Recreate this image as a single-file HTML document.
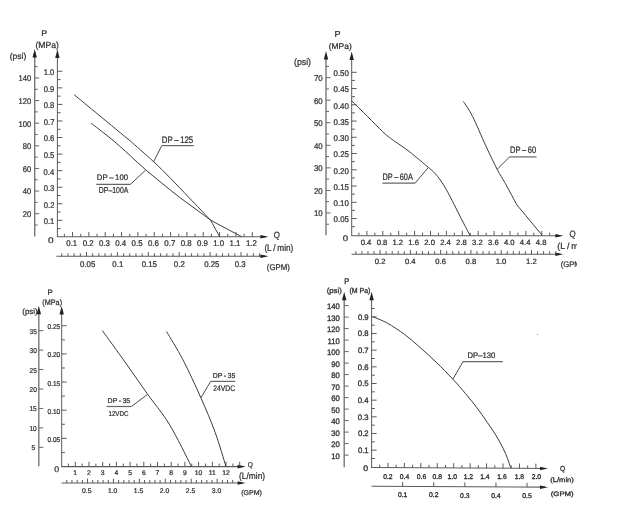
<!DOCTYPE html>
<html><head><meta charset="utf-8"><style>
html,body{margin:0;padding:0;background:#fff;}
body{width:631px;height:521px;overflow:hidden;}
svg{display:block;will-change:transform;}
text{stroke:#2e2e2e;stroke-width:0.24px;}
.c4 text{stroke-width:0.3px;}
svg{text-rendering:geometricPrecision;font-family:"Liberation Sans",Arial,sans-serif;}
</style></head><body>
<svg width="631" height="521" viewBox="0 0 631 521">
<rect width="631" height="521" fill="#fff"/>
<svg x="0" y="0" width="577" height="521" overflow="hidden">
<g class="c1">
<line x1="34.7" y1="53.8" x2="34.7" y2="236.5" stroke="#777" stroke-width="1.4"/>
<polygon fill="#222" points="34.7,49 32.5,57.5 36.9,57.5"/>
<line x1="57.4" y1="54.3" x2="57.4" y2="236.8" stroke="#5a5a5a" stroke-width="1.0"/>
<polygon fill="#222" points="57.4,49.5 55.2,58 59.6,58"/>
<line x1="34.7" y1="224.99" x2="37.7" y2="224.99" stroke="#666" stroke-width="1.0"/>
<line x1="34.7" y1="213.68" x2="39.2" y2="213.68" stroke="#666" stroke-width="1.0"/>
<line x1="34.7" y1="202.37" x2="37.7" y2="202.37" stroke="#666" stroke-width="1.0"/>
<line x1="34.7" y1="191.06" x2="39.2" y2="191.06" stroke="#666" stroke-width="1.0"/>
<line x1="34.7" y1="179.75" x2="37.7" y2="179.75" stroke="#666" stroke-width="1.0"/>
<line x1="34.7" y1="168.44" x2="39.2" y2="168.44" stroke="#666" stroke-width="1.0"/>
<line x1="34.7" y1="157.13" x2="37.7" y2="157.13" stroke="#666" stroke-width="1.0"/>
<line x1="34.7" y1="145.82" x2="39.2" y2="145.82" stroke="#666" stroke-width="1.0"/>
<line x1="34.7" y1="134.51" x2="37.7" y2="134.51" stroke="#666" stroke-width="1.0"/>
<line x1="34.7" y1="123.2" x2="39.2" y2="123.2" stroke="#666" stroke-width="1.0"/>
<line x1="34.7" y1="111.89" x2="37.7" y2="111.89" stroke="#666" stroke-width="1.0"/>
<line x1="34.7" y1="100.58" x2="39.2" y2="100.58" stroke="#666" stroke-width="1.0"/>
<line x1="34.7" y1="89.27" x2="37.7" y2="89.27" stroke="#666" stroke-width="1.0"/>
<line x1="34.7" y1="77.96" x2="39.2" y2="77.96" stroke="#666" stroke-width="1.0"/>
<line x1="34.7" y1="66.65" x2="37.7" y2="66.65" stroke="#666" stroke-width="1.0"/>
<text x="22.81" y="217.08" font-size="8.3" textLength="8.49" lengthAdjust="spacingAndGlyphs" fill="#2e2e2e">20</text>
<text x="22.81" y="194.46" font-size="8.3" textLength="8.49" lengthAdjust="spacingAndGlyphs" fill="#2e2e2e">40</text>
<text x="22.81" y="171.84" font-size="8.3" textLength="8.49" lengthAdjust="spacingAndGlyphs" fill="#2e2e2e">60</text>
<text x="22.81" y="149.22" font-size="8.3" textLength="8.49" lengthAdjust="spacingAndGlyphs" fill="#2e2e2e">80</text>
<text x="18.55" y="126.6" font-size="8.3" textLength="12.74" lengthAdjust="spacingAndGlyphs" fill="#2e2e2e">100</text>
<text x="18.55" y="103.98" font-size="8.3" textLength="12.74" lengthAdjust="spacingAndGlyphs" fill="#2e2e2e">120</text>
<text x="18.55" y="81.36" font-size="8.3" textLength="12.74" lengthAdjust="spacingAndGlyphs" fill="#2e2e2e">140</text>
<line x1="57.4" y1="228.62" x2="60.6" y2="228.62" stroke="#5a5a5a" stroke-width="1.0"/>
<line x1="57.4" y1="220.34" x2="62.4" y2="220.34" stroke="#5a5a5a" stroke-width="1.0"/>
<line x1="57.4" y1="212.06" x2="60.6" y2="212.06" stroke="#5a5a5a" stroke-width="1.0"/>
<line x1="57.4" y1="203.78" x2="62.4" y2="203.78" stroke="#5a5a5a" stroke-width="1.0"/>
<line x1="57.4" y1="195.5" x2="60.6" y2="195.5" stroke="#5a5a5a" stroke-width="1.0"/>
<line x1="57.4" y1="187.22" x2="62.4" y2="187.22" stroke="#5a5a5a" stroke-width="1.0"/>
<line x1="57.4" y1="178.94" x2="60.6" y2="178.94" stroke="#5a5a5a" stroke-width="1.0"/>
<line x1="57.4" y1="170.66" x2="62.4" y2="170.66" stroke="#5a5a5a" stroke-width="1.0"/>
<line x1="57.4" y1="162.38" x2="60.6" y2="162.38" stroke="#5a5a5a" stroke-width="1.0"/>
<line x1="57.4" y1="154.1" x2="62.4" y2="154.1" stroke="#5a5a5a" stroke-width="1.0"/>
<line x1="57.4" y1="145.82" x2="60.6" y2="145.82" stroke="#5a5a5a" stroke-width="1.0"/>
<line x1="57.4" y1="137.54" x2="62.4" y2="137.54" stroke="#5a5a5a" stroke-width="1.0"/>
<line x1="57.4" y1="129.26" x2="60.6" y2="129.26" stroke="#5a5a5a" stroke-width="1.0"/>
<line x1="57.4" y1="120.98" x2="62.4" y2="120.98" stroke="#5a5a5a" stroke-width="1.0"/>
<line x1="57.4" y1="112.7" x2="60.6" y2="112.7" stroke="#5a5a5a" stroke-width="1.0"/>
<line x1="57.4" y1="104.42" x2="62.4" y2="104.42" stroke="#5a5a5a" stroke-width="1.0"/>
<line x1="57.4" y1="96.14" x2="60.6" y2="96.14" stroke="#5a5a5a" stroke-width="1.0"/>
<line x1="57.4" y1="87.86" x2="62.4" y2="87.86" stroke="#5a5a5a" stroke-width="1.0"/>
<line x1="57.4" y1="79.58" x2="60.6" y2="79.58" stroke="#5a5a5a" stroke-width="1.0"/>
<line x1="57.4" y1="71.3" x2="62.4" y2="71.3" stroke="#5a5a5a" stroke-width="1.0"/>
<text x="43.75" y="224.24" font-size="8.3" textLength="10.62" lengthAdjust="spacingAndGlyphs" fill="#2e2e2e">0.1</text>
<text x="43.77" y="207.68" font-size="8.3" textLength="10.62" lengthAdjust="spacingAndGlyphs" fill="#2e2e2e">0.2</text>
<text x="43.71" y="191.12" font-size="8.3" textLength="10.62" lengthAdjust="spacingAndGlyphs" fill="#2e2e2e">0.3</text>
<text x="43.6" y="174.56" font-size="8.3" textLength="10.62" lengthAdjust="spacingAndGlyphs" fill="#2e2e2e">0.4</text>
<text x="43.69" y="158" font-size="8.3" textLength="10.62" lengthAdjust="spacingAndGlyphs" fill="#2e2e2e">0.5</text>
<text x="43.71" y="141.44" font-size="8.3" textLength="10.62" lengthAdjust="spacingAndGlyphs" fill="#2e2e2e">0.6</text>
<text x="43.77" y="124.88" font-size="8.3" textLength="10.62" lengthAdjust="spacingAndGlyphs" fill="#2e2e2e">0.7</text>
<text x="43.71" y="108.32" font-size="8.3" textLength="10.62" lengthAdjust="spacingAndGlyphs" fill="#2e2e2e">0.8</text>
<text x="43.73" y="91.76" font-size="8.3" textLength="10.62" lengthAdjust="spacingAndGlyphs" fill="#2e2e2e">0.9</text>
<text x="43.67" y="75.2" font-size="8.3" textLength="10.62" lengthAdjust="spacingAndGlyphs" fill="#2e2e2e">1.0</text>
<line x1="56.9" y1="236.8" x2="265.4" y2="236.8" stroke="#5a5a5a" stroke-width="1.1"/>
<polygon fill="#222" points="268.4,236.8 260.4,235 260.4,238.6"/>
<line x1="64.37" y1="236.8" x2="64.37" y2="233.8" stroke="#5a5a5a" stroke-width="1.0"/>
<line x1="72.54" y1="236.8" x2="72.54" y2="232" stroke="#5a5a5a" stroke-width="1.0"/>
<line x1="80.71" y1="236.8" x2="80.71" y2="233.8" stroke="#5a5a5a" stroke-width="1.0"/>
<line x1="88.88" y1="236.8" x2="88.88" y2="232" stroke="#5a5a5a" stroke-width="1.0"/>
<line x1="97.05" y1="236.8" x2="97.05" y2="233.8" stroke="#5a5a5a" stroke-width="1.0"/>
<line x1="105.22" y1="236.8" x2="105.22" y2="232" stroke="#5a5a5a" stroke-width="1.0"/>
<line x1="113.39" y1="236.8" x2="113.39" y2="233.8" stroke="#5a5a5a" stroke-width="1.0"/>
<line x1="121.56" y1="236.8" x2="121.56" y2="232" stroke="#5a5a5a" stroke-width="1.0"/>
<line x1="129.73" y1="236.8" x2="129.73" y2="233.8" stroke="#5a5a5a" stroke-width="1.0"/>
<line x1="137.9" y1="236.8" x2="137.9" y2="232" stroke="#5a5a5a" stroke-width="1.0"/>
<line x1="146.07" y1="236.8" x2="146.07" y2="233.8" stroke="#5a5a5a" stroke-width="1.0"/>
<line x1="154.24" y1="236.8" x2="154.24" y2="232" stroke="#5a5a5a" stroke-width="1.0"/>
<line x1="162.41" y1="236.8" x2="162.41" y2="233.8" stroke="#5a5a5a" stroke-width="1.0"/>
<line x1="170.58" y1="236.8" x2="170.58" y2="232" stroke="#5a5a5a" stroke-width="1.0"/>
<line x1="178.75" y1="236.8" x2="178.75" y2="233.8" stroke="#5a5a5a" stroke-width="1.0"/>
<line x1="186.92" y1="236.8" x2="186.92" y2="232" stroke="#5a5a5a" stroke-width="1.0"/>
<line x1="195.09" y1="236.8" x2="195.09" y2="233.8" stroke="#5a5a5a" stroke-width="1.0"/>
<line x1="203.26" y1="236.8" x2="203.26" y2="232" stroke="#5a5a5a" stroke-width="1.0"/>
<line x1="211.43" y1="236.8" x2="211.43" y2="233.8" stroke="#5a5a5a" stroke-width="1.0"/>
<line x1="219.6" y1="236.8" x2="219.6" y2="232" stroke="#5a5a5a" stroke-width="1.0"/>
<line x1="227.77" y1="236.8" x2="227.77" y2="233.8" stroke="#5a5a5a" stroke-width="1.0"/>
<line x1="235.94" y1="236.8" x2="235.94" y2="232" stroke="#5a5a5a" stroke-width="1.0"/>
<line x1="244.11" y1="236.8" x2="244.11" y2="233.8" stroke="#5a5a5a" stroke-width="1.0"/>
<line x1="252.28" y1="236.8" x2="252.28" y2="232" stroke="#5a5a5a" stroke-width="1.0"/>
<text x="66.29" y="246" font-size="8.3" textLength="10.96" lengthAdjust="spacingAndGlyphs" fill="#2e2e2e">0.1</text>
<text x="82.64" y="246" font-size="8.3" textLength="10.96" lengthAdjust="spacingAndGlyphs" fill="#2e2e2e">0.2</text>
<text x="98.95" y="246" font-size="8.3" textLength="10.96" lengthAdjust="spacingAndGlyphs" fill="#2e2e2e">0.3</text>
<text x="115.23" y="246" font-size="8.3" textLength="10.96" lengthAdjust="spacingAndGlyphs" fill="#2e2e2e">0.4</text>
<text x="131.62" y="246" font-size="8.3" textLength="10.96" lengthAdjust="spacingAndGlyphs" fill="#2e2e2e">0.5</text>
<text x="147.97" y="246" font-size="8.3" textLength="10.96" lengthAdjust="spacingAndGlyphs" fill="#2e2e2e">0.6</text>
<text x="164.34" y="246" font-size="8.3" textLength="10.96" lengthAdjust="spacingAndGlyphs" fill="#2e2e2e">0.7</text>
<text x="180.65" y="246" font-size="8.3" textLength="10.96" lengthAdjust="spacingAndGlyphs" fill="#2e2e2e">0.8</text>
<text x="197" y="246" font-size="8.3" textLength="10.96" lengthAdjust="spacingAndGlyphs" fill="#2e2e2e">0.9</text>
<text x="213.17" y="246" font-size="8.3" textLength="10.96" lengthAdjust="spacingAndGlyphs" fill="#2e2e2e">1.0</text>
<text x="229.55" y="246" font-size="8.3" textLength="10.96" lengthAdjust="spacingAndGlyphs" fill="#2e2e2e">1.1</text>
<text x="245.9" y="246" font-size="8.3" textLength="10.96" lengthAdjust="spacingAndGlyphs" fill="#2e2e2e">1.2</text>
<line x1="56.4" y1="256.3" x2="265.4" y2="256.3" stroke="#5a5a5a" stroke-width="1.1"/>
<polygon fill="#222" points="268.4,256.3 260.4,254.5 260.4,258.1"/>
<line x1="61.78" y1="256.3" x2="61.78" y2="253.3" stroke="#5a5a5a" stroke-width="1.0"/>
<line x1="67.96" y1="256.3" x2="67.96" y2="253.3" stroke="#5a5a5a" stroke-width="1.0"/>
<line x1="74.14" y1="256.3" x2="74.14" y2="253.3" stroke="#5a5a5a" stroke-width="1.0"/>
<line x1="80.32" y1="256.3" x2="80.32" y2="253.3" stroke="#5a5a5a" stroke-width="1.0"/>
<line x1="86.5" y1="256.3" x2="86.5" y2="252" stroke="#5a5a5a" stroke-width="1.0"/>
<line x1="92.68" y1="256.3" x2="92.68" y2="253.3" stroke="#5a5a5a" stroke-width="1.0"/>
<line x1="98.86" y1="256.3" x2="98.86" y2="253.3" stroke="#5a5a5a" stroke-width="1.0"/>
<line x1="105.04" y1="256.3" x2="105.04" y2="253.3" stroke="#5a5a5a" stroke-width="1.0"/>
<line x1="111.22" y1="256.3" x2="111.22" y2="253.3" stroke="#5a5a5a" stroke-width="1.0"/>
<line x1="117.4" y1="256.3" x2="117.4" y2="252" stroke="#5a5a5a" stroke-width="1.0"/>
<line x1="123.58" y1="256.3" x2="123.58" y2="253.3" stroke="#5a5a5a" stroke-width="1.0"/>
<line x1="129.76" y1="256.3" x2="129.76" y2="253.3" stroke="#5a5a5a" stroke-width="1.0"/>
<line x1="135.94" y1="256.3" x2="135.94" y2="253.3" stroke="#5a5a5a" stroke-width="1.0"/>
<line x1="142.12" y1="256.3" x2="142.12" y2="253.3" stroke="#5a5a5a" stroke-width="1.0"/>
<line x1="148.3" y1="256.3" x2="148.3" y2="252" stroke="#5a5a5a" stroke-width="1.0"/>
<line x1="154.48" y1="256.3" x2="154.48" y2="253.3" stroke="#5a5a5a" stroke-width="1.0"/>
<line x1="160.66" y1="256.3" x2="160.66" y2="253.3" stroke="#5a5a5a" stroke-width="1.0"/>
<line x1="166.84" y1="256.3" x2="166.84" y2="253.3" stroke="#5a5a5a" stroke-width="1.0"/>
<line x1="173.02" y1="256.3" x2="173.02" y2="253.3" stroke="#5a5a5a" stroke-width="1.0"/>
<line x1="179.2" y1="256.3" x2="179.2" y2="252" stroke="#5a5a5a" stroke-width="1.0"/>
<line x1="185.38" y1="256.3" x2="185.38" y2="253.3" stroke="#5a5a5a" stroke-width="1.0"/>
<line x1="191.56" y1="256.3" x2="191.56" y2="253.3" stroke="#5a5a5a" stroke-width="1.0"/>
<line x1="197.74" y1="256.3" x2="197.74" y2="253.3" stroke="#5a5a5a" stroke-width="1.0"/>
<line x1="203.92" y1="256.3" x2="203.92" y2="253.3" stroke="#5a5a5a" stroke-width="1.0"/>
<line x1="210.1" y1="256.3" x2="210.1" y2="252" stroke="#5a5a5a" stroke-width="1.0"/>
<line x1="216.28" y1="256.3" x2="216.28" y2="253.3" stroke="#5a5a5a" stroke-width="1.0"/>
<line x1="222.46" y1="256.3" x2="222.46" y2="253.3" stroke="#5a5a5a" stroke-width="1.0"/>
<line x1="228.64" y1="256.3" x2="228.64" y2="253.3" stroke="#5a5a5a" stroke-width="1.0"/>
<line x1="234.82" y1="256.3" x2="234.82" y2="253.3" stroke="#5a5a5a" stroke-width="1.0"/>
<line x1="241" y1="256.3" x2="241" y2="252" stroke="#5a5a5a" stroke-width="1.0"/>
<line x1="247.18" y1="256.3" x2="247.18" y2="253.3" stroke="#5a5a5a" stroke-width="1.0"/>
<line x1="253.36" y1="256.3" x2="253.36" y2="253.3" stroke="#5a5a5a" stroke-width="1.0"/>
<line x1="259.54" y1="256.3" x2="259.54" y2="253.3" stroke="#5a5a5a" stroke-width="1.0"/>
<text x="79.93" y="266.9" font-size="8.3" textLength="15.35" lengthAdjust="spacingAndGlyphs" fill="#2e2e2e">0.05</text>
<text x="112.35" y="266.9" font-size="8.3" textLength="10.96" lengthAdjust="spacingAndGlyphs" fill="#2e2e2e">0.1</text>
<text x="141.63" y="266.9" font-size="8.3" textLength="15.35" lengthAdjust="spacingAndGlyphs" fill="#2e2e2e">0.15</text>
<text x="173.86" y="266.9" font-size="8.3" textLength="10.96" lengthAdjust="spacingAndGlyphs" fill="#2e2e2e">0.2</text>
<text x="204.13" y="266.9" font-size="8.3" textLength="15.35" lengthAdjust="spacingAndGlyphs" fill="#2e2e2e">0.25</text>
<text x="234.63" y="266.9" font-size="8.3" textLength="10.96" lengthAdjust="spacingAndGlyphs" fill="#2e2e2e">0.3</text>
<text x="41.37" y="35.8" font-size="8.15" textLength="5.89" lengthAdjust="spacingAndGlyphs" fill="#2e2e2e">P</text>
<text x="35.47" y="47.85" font-size="8.9" textLength="23.27" lengthAdjust="spacingAndGlyphs" fill="#2e2e2e">(MPa)</text>
<text x="9.77" y="58.64" font-size="8.47" textLength="16.56" lengthAdjust="spacingAndGlyphs" fill="#2e2e2e">(psi)</text>
<text x="48" y="243.12" font-size="8.2" textLength="5.59" lengthAdjust="spacingAndGlyphs" fill="#2e2e2e">0</text>
<text x="264.39" y="250.66" font-size="9.33" textLength="28.92" lengthAdjust="spacingAndGlyphs" fill="#2e2e2e">(L / min)</text>
<text x="266.81" y="269.56" font-size="8.36" textLength="22.99" lengthAdjust="spacingAndGlyphs" fill="#2e2e2e">(GPM)</text>
<text x="273.72" y="238.2" font-size="9.03" textLength="6.15" lengthAdjust="spacingAndGlyphs" fill="#2e2e2e">Q</text>
</g>
<g class="c2">
<line x1="326" y1="55.7" x2="326" y2="235.3" stroke="#777" stroke-width="1.4"/>
<polygon fill="#222" points="326,50.9 323.8,59.4 328.2,59.4"/>
<line x1="351.7" y1="56.4" x2="351.7" y2="235.7" stroke="#5a5a5a" stroke-width="1.0"/>
<polygon fill="#222" points="351.7,51.6 349.5,60.1 353.9,60.1"/>
<line x1="326" y1="224.22" x2="329" y2="224.22" stroke="#666" stroke-width="1.0"/>
<line x1="326" y1="212.95" x2="330.5" y2="212.95" stroke="#666" stroke-width="1.0"/>
<line x1="326" y1="201.68" x2="329" y2="201.68" stroke="#666" stroke-width="1.0"/>
<line x1="326" y1="190.4" x2="330.5" y2="190.4" stroke="#666" stroke-width="1.0"/>
<line x1="326" y1="179.12" x2="329" y2="179.12" stroke="#666" stroke-width="1.0"/>
<line x1="326" y1="167.85" x2="330.5" y2="167.85" stroke="#666" stroke-width="1.0"/>
<line x1="326" y1="156.57" x2="329" y2="156.57" stroke="#666" stroke-width="1.0"/>
<line x1="326" y1="145.3" x2="330.5" y2="145.3" stroke="#666" stroke-width="1.0"/>
<line x1="326" y1="134.03" x2="329" y2="134.03" stroke="#666" stroke-width="1.0"/>
<line x1="326" y1="122.75" x2="330.5" y2="122.75" stroke="#666" stroke-width="1.0"/>
<line x1="326" y1="111.48" x2="329" y2="111.48" stroke="#666" stroke-width="1.0"/>
<line x1="326" y1="100.2" x2="330.5" y2="100.2" stroke="#666" stroke-width="1.0"/>
<line x1="326" y1="88.93" x2="329" y2="88.93" stroke="#666" stroke-width="1.0"/>
<line x1="326" y1="77.65" x2="330.5" y2="77.65" stroke="#666" stroke-width="1.0"/>
<line x1="326" y1="66.38" x2="329" y2="66.38" stroke="#666" stroke-width="1.0"/>
<text x="313.94" y="216.35" font-size="8.3" textLength="8.77" lengthAdjust="spacingAndGlyphs" fill="#2e2e2e">10</text>
<text x="313.94" y="193.8" font-size="8.3" textLength="8.77" lengthAdjust="spacingAndGlyphs" fill="#2e2e2e">20</text>
<text x="313.94" y="171.25" font-size="8.3" textLength="8.77" lengthAdjust="spacingAndGlyphs" fill="#2e2e2e">30</text>
<text x="313.94" y="148.7" font-size="8.3" textLength="8.77" lengthAdjust="spacingAndGlyphs" fill="#2e2e2e">40</text>
<text x="313.94" y="126.15" font-size="8.3" textLength="8.77" lengthAdjust="spacingAndGlyphs" fill="#2e2e2e">50</text>
<text x="313.94" y="103.6" font-size="8.3" textLength="8.77" lengthAdjust="spacingAndGlyphs" fill="#2e2e2e">60</text>
<text x="313.94" y="81.05" font-size="8.3" textLength="8.77" lengthAdjust="spacingAndGlyphs" fill="#2e2e2e">70</text>
<line x1="351.7" y1="226.68" x2="354.9" y2="226.68" stroke="#5a5a5a" stroke-width="1.0"/>
<line x1="351.7" y1="218.55" x2="356.7" y2="218.55" stroke="#5a5a5a" stroke-width="1.0"/>
<line x1="351.7" y1="210.43" x2="354.9" y2="210.43" stroke="#5a5a5a" stroke-width="1.0"/>
<line x1="351.7" y1="202.3" x2="356.7" y2="202.3" stroke="#5a5a5a" stroke-width="1.0"/>
<line x1="351.7" y1="194.18" x2="354.9" y2="194.18" stroke="#5a5a5a" stroke-width="1.0"/>
<line x1="351.7" y1="186.05" x2="356.7" y2="186.05" stroke="#5a5a5a" stroke-width="1.0"/>
<line x1="351.7" y1="177.93" x2="354.9" y2="177.93" stroke="#5a5a5a" stroke-width="1.0"/>
<line x1="351.7" y1="169.8" x2="356.7" y2="169.8" stroke="#5a5a5a" stroke-width="1.0"/>
<line x1="351.7" y1="161.68" x2="354.9" y2="161.68" stroke="#5a5a5a" stroke-width="1.0"/>
<line x1="351.7" y1="153.55" x2="356.7" y2="153.55" stroke="#5a5a5a" stroke-width="1.0"/>
<line x1="351.7" y1="145.43" x2="354.9" y2="145.43" stroke="#5a5a5a" stroke-width="1.0"/>
<line x1="351.7" y1="137.3" x2="356.7" y2="137.3" stroke="#5a5a5a" stroke-width="1.0"/>
<line x1="351.7" y1="129.17" x2="354.9" y2="129.17" stroke="#5a5a5a" stroke-width="1.0"/>
<line x1="351.7" y1="121.05" x2="356.7" y2="121.05" stroke="#5a5a5a" stroke-width="1.0"/>
<line x1="351.7" y1="112.92" x2="354.9" y2="112.92" stroke="#5a5a5a" stroke-width="1.0"/>
<line x1="351.7" y1="104.8" x2="356.7" y2="104.8" stroke="#5a5a5a" stroke-width="1.0"/>
<line x1="351.7" y1="96.67" x2="354.9" y2="96.67" stroke="#5a5a5a" stroke-width="1.0"/>
<line x1="351.7" y1="88.55" x2="356.7" y2="88.55" stroke="#5a5a5a" stroke-width="1.0"/>
<line x1="351.7" y1="80.43" x2="354.9" y2="80.43" stroke="#5a5a5a" stroke-width="1.0"/>
<line x1="351.7" y1="72.3" x2="356.7" y2="72.3" stroke="#5a5a5a" stroke-width="1.0"/>
<text x="333.58" y="222.45" font-size="8.3" textLength="15.35" lengthAdjust="spacingAndGlyphs" fill="#2e2e2e">0.05</text>
<text x="333.56" y="206.2" font-size="8.3" textLength="15.35" lengthAdjust="spacingAndGlyphs" fill="#2e2e2e">0.10</text>
<text x="333.58" y="189.95" font-size="8.3" textLength="15.35" lengthAdjust="spacingAndGlyphs" fill="#2e2e2e">0.15</text>
<text x="333.56" y="173.7" font-size="8.3" textLength="15.35" lengthAdjust="spacingAndGlyphs" fill="#2e2e2e">0.20</text>
<text x="333.58" y="157.45" font-size="8.3" textLength="15.35" lengthAdjust="spacingAndGlyphs" fill="#2e2e2e">0.25</text>
<text x="333.56" y="141.2" font-size="8.3" textLength="15.35" lengthAdjust="spacingAndGlyphs" fill="#2e2e2e">0.30</text>
<text x="333.58" y="124.95" font-size="8.3" textLength="15.35" lengthAdjust="spacingAndGlyphs" fill="#2e2e2e">0.35</text>
<text x="333.56" y="108.7" font-size="8.3" textLength="15.35" lengthAdjust="spacingAndGlyphs" fill="#2e2e2e">0.40</text>
<text x="333.58" y="92.45" font-size="8.3" textLength="15.35" lengthAdjust="spacingAndGlyphs" fill="#2e2e2e">0.45</text>
<text x="333.56" y="76.2" font-size="8.3" textLength="15.35" lengthAdjust="spacingAndGlyphs" fill="#2e2e2e">0.50</text>
<line x1="351.2" y1="235.7" x2="560.3" y2="235.7" stroke="#5a5a5a" stroke-width="1.1"/>
<polygon fill="#222" points="563.3,235.7 555.3,233.9 555.3,237.5"/>
<line x1="358.95" y1="235.7" x2="358.95" y2="232.7" stroke="#5a5a5a" stroke-width="1.0"/>
<line x1="366.9" y1="235.7" x2="366.9" y2="230.9" stroke="#5a5a5a" stroke-width="1.0"/>
<line x1="374.85" y1="235.7" x2="374.85" y2="232.7" stroke="#5a5a5a" stroke-width="1.0"/>
<line x1="382.8" y1="235.7" x2="382.8" y2="230.9" stroke="#5a5a5a" stroke-width="1.0"/>
<line x1="390.75" y1="235.7" x2="390.75" y2="232.7" stroke="#5a5a5a" stroke-width="1.0"/>
<line x1="398.7" y1="235.7" x2="398.7" y2="230.9" stroke="#5a5a5a" stroke-width="1.0"/>
<line x1="406.65" y1="235.7" x2="406.65" y2="232.7" stroke="#5a5a5a" stroke-width="1.0"/>
<line x1="414.6" y1="235.7" x2="414.6" y2="230.9" stroke="#5a5a5a" stroke-width="1.0"/>
<line x1="422.55" y1="235.7" x2="422.55" y2="232.7" stroke="#5a5a5a" stroke-width="1.0"/>
<line x1="430.5" y1="235.7" x2="430.5" y2="230.9" stroke="#5a5a5a" stroke-width="1.0"/>
<line x1="438.45" y1="235.7" x2="438.45" y2="232.7" stroke="#5a5a5a" stroke-width="1.0"/>
<line x1="446.4" y1="235.7" x2="446.4" y2="230.9" stroke="#5a5a5a" stroke-width="1.0"/>
<line x1="454.35" y1="235.7" x2="454.35" y2="232.7" stroke="#5a5a5a" stroke-width="1.0"/>
<line x1="462.3" y1="235.7" x2="462.3" y2="230.9" stroke="#5a5a5a" stroke-width="1.0"/>
<line x1="470.25" y1="235.7" x2="470.25" y2="232.7" stroke="#5a5a5a" stroke-width="1.0"/>
<line x1="478.2" y1="235.7" x2="478.2" y2="230.9" stroke="#5a5a5a" stroke-width="1.0"/>
<line x1="486.15" y1="235.7" x2="486.15" y2="232.7" stroke="#5a5a5a" stroke-width="1.0"/>
<line x1="494.1" y1="235.7" x2="494.1" y2="230.9" stroke="#5a5a5a" stroke-width="1.0"/>
<line x1="502.05" y1="235.7" x2="502.05" y2="232.7" stroke="#5a5a5a" stroke-width="1.0"/>
<line x1="510" y1="235.7" x2="510" y2="230.9" stroke="#5a5a5a" stroke-width="1.0"/>
<line x1="517.95" y1="235.7" x2="517.95" y2="232.7" stroke="#5a5a5a" stroke-width="1.0"/>
<line x1="525.9" y1="235.7" x2="525.9" y2="230.9" stroke="#5a5a5a" stroke-width="1.0"/>
<line x1="533.85" y1="235.7" x2="533.85" y2="232.7" stroke="#5a5a5a" stroke-width="1.0"/>
<line x1="541.8" y1="235.7" x2="541.8" y2="230.9" stroke="#5a5a5a" stroke-width="1.0"/>
<line x1="549.75" y1="235.7" x2="549.75" y2="232.7" stroke="#5a5a5a" stroke-width="1.0"/>
<text x="360.7" y="244.69" font-size="7.7" textLength="10.7" lengthAdjust="spacingAndGlyphs" fill="#2e2e2e">0.4</text>
<text x="376.66" y="244.69" font-size="7.7" textLength="10.7" lengthAdjust="spacingAndGlyphs" fill="#2e2e2e">0.8</text>
<text x="392.45" y="244.69" font-size="7.7" textLength="10.7" lengthAdjust="spacingAndGlyphs" fill="#2e2e2e">1.2</text>
<text x="408.32" y="244.69" font-size="7.7" textLength="10.7" lengthAdjust="spacingAndGlyphs" fill="#2e2e2e">1.6</text>
<text x="424.3" y="244.69" font-size="7.7" textLength="10.7" lengthAdjust="spacingAndGlyphs" fill="#2e2e2e">2.0</text>
<text x="440.16" y="244.69" font-size="7.7" textLength="10.7" lengthAdjust="spacingAndGlyphs" fill="#2e2e2e">2.4</text>
<text x="456.12" y="244.69" font-size="7.7" textLength="10.7" lengthAdjust="spacingAndGlyphs" fill="#2e2e2e">2.8</text>
<text x="472.1" y="244.69" font-size="7.7" textLength="10.7" lengthAdjust="spacingAndGlyphs" fill="#2e2e2e">3.2</text>
<text x="487.97" y="244.69" font-size="7.7" textLength="10.7" lengthAdjust="spacingAndGlyphs" fill="#2e2e2e">3.6</text>
<text x="503.91" y="244.69" font-size="7.7" textLength="10.7" lengthAdjust="spacingAndGlyphs" fill="#2e2e2e">4.0</text>
<text x="519.77" y="244.69" font-size="7.7" textLength="10.7" lengthAdjust="spacingAndGlyphs" fill="#2e2e2e">4.4</text>
<text x="535.73" y="244.69" font-size="7.7" textLength="10.7" lengthAdjust="spacingAndGlyphs" fill="#2e2e2e">4.8</text>
<line x1="351.5" y1="254.2" x2="560.3" y2="254.2" stroke="#5a5a5a" stroke-width="1.1"/>
<polygon fill="#222" points="563.3,254.2 555.3,252.4 555.3,256"/>
<line x1="355.86" y1="254.2" x2="355.86" y2="251.2" stroke="#5a5a5a" stroke-width="1.0"/>
<line x1="361.91" y1="254.2" x2="361.91" y2="251.2" stroke="#5a5a5a" stroke-width="1.0"/>
<line x1="367.97" y1="254.2" x2="367.97" y2="251.2" stroke="#5a5a5a" stroke-width="1.0"/>
<line x1="374.02" y1="254.2" x2="374.02" y2="251.2" stroke="#5a5a5a" stroke-width="1.0"/>
<line x1="380.08" y1="254.2" x2="380.08" y2="249.9" stroke="#5a5a5a" stroke-width="1.0"/>
<line x1="386.14" y1="254.2" x2="386.14" y2="251.2" stroke="#5a5a5a" stroke-width="1.0"/>
<line x1="392.19" y1="254.2" x2="392.19" y2="251.2" stroke="#5a5a5a" stroke-width="1.0"/>
<line x1="398.25" y1="254.2" x2="398.25" y2="251.2" stroke="#5a5a5a" stroke-width="1.0"/>
<line x1="404.3" y1="254.2" x2="404.3" y2="251.2" stroke="#5a5a5a" stroke-width="1.0"/>
<line x1="410.36" y1="254.2" x2="410.36" y2="249.9" stroke="#5a5a5a" stroke-width="1.0"/>
<line x1="416.42" y1="254.2" x2="416.42" y2="251.2" stroke="#5a5a5a" stroke-width="1.0"/>
<line x1="422.47" y1="254.2" x2="422.47" y2="251.2" stroke="#5a5a5a" stroke-width="1.0"/>
<line x1="428.53" y1="254.2" x2="428.53" y2="251.2" stroke="#5a5a5a" stroke-width="1.0"/>
<line x1="434.58" y1="254.2" x2="434.58" y2="251.2" stroke="#5a5a5a" stroke-width="1.0"/>
<line x1="440.64" y1="254.2" x2="440.64" y2="249.9" stroke="#5a5a5a" stroke-width="1.0"/>
<line x1="446.7" y1="254.2" x2="446.7" y2="251.2" stroke="#5a5a5a" stroke-width="1.0"/>
<line x1="452.75" y1="254.2" x2="452.75" y2="251.2" stroke="#5a5a5a" stroke-width="1.0"/>
<line x1="458.81" y1="254.2" x2="458.81" y2="251.2" stroke="#5a5a5a" stroke-width="1.0"/>
<line x1="464.86" y1="254.2" x2="464.86" y2="251.2" stroke="#5a5a5a" stroke-width="1.0"/>
<line x1="470.92" y1="254.2" x2="470.92" y2="249.9" stroke="#5a5a5a" stroke-width="1.0"/>
<line x1="476.98" y1="254.2" x2="476.98" y2="251.2" stroke="#5a5a5a" stroke-width="1.0"/>
<line x1="483.03" y1="254.2" x2="483.03" y2="251.2" stroke="#5a5a5a" stroke-width="1.0"/>
<line x1="489.09" y1="254.2" x2="489.09" y2="251.2" stroke="#5a5a5a" stroke-width="1.0"/>
<line x1="495.14" y1="254.2" x2="495.14" y2="251.2" stroke="#5a5a5a" stroke-width="1.0"/>
<line x1="501.2" y1="254.2" x2="501.2" y2="249.9" stroke="#5a5a5a" stroke-width="1.0"/>
<line x1="507.26" y1="254.2" x2="507.26" y2="251.2" stroke="#5a5a5a" stroke-width="1.0"/>
<line x1="513.31" y1="254.2" x2="513.31" y2="251.2" stroke="#5a5a5a" stroke-width="1.0"/>
<line x1="519.37" y1="254.2" x2="519.37" y2="251.2" stroke="#5a5a5a" stroke-width="1.0"/>
<line x1="525.42" y1="254.2" x2="525.42" y2="251.2" stroke="#5a5a5a" stroke-width="1.0"/>
<line x1="531.48" y1="254.2" x2="531.48" y2="249.9" stroke="#5a5a5a" stroke-width="1.0"/>
<line x1="537.54" y1="254.2" x2="537.54" y2="251.2" stroke="#5a5a5a" stroke-width="1.0"/>
<line x1="543.59" y1="254.2" x2="543.59" y2="251.2" stroke="#5a5a5a" stroke-width="1.0"/>
<line x1="549.65" y1="254.2" x2="549.65" y2="251.2" stroke="#5a5a5a" stroke-width="1.0"/>
<line x1="555.7" y1="254.2" x2="555.7" y2="251.2" stroke="#5a5a5a" stroke-width="1.0"/>
<text x="374.77" y="264.29" font-size="7.7" textLength="10.7" lengthAdjust="spacingAndGlyphs" fill="#2e2e2e">0.2</text>
<text x="404.96" y="264.29" font-size="7.7" textLength="10.7" lengthAdjust="spacingAndGlyphs" fill="#2e2e2e">0.4</text>
<text x="435.3" y="264.29" font-size="7.7" textLength="10.7" lengthAdjust="spacingAndGlyphs" fill="#2e2e2e">0.6</text>
<text x="465.58" y="264.29" font-size="7.7" textLength="10.7" lengthAdjust="spacingAndGlyphs" fill="#2e2e2e">0.8</text>
<text x="495.7" y="264.29" font-size="7.7" textLength="10.7" lengthAdjust="spacingAndGlyphs" fill="#2e2e2e">1.0</text>
<text x="526.03" y="264.29" font-size="7.7" textLength="10.7" lengthAdjust="spacingAndGlyphs" fill="#2e2e2e">1.2</text>
<text x="334.46" y="36.7" font-size="8.58" textLength="6.01" lengthAdjust="spacingAndGlyphs" fill="#2e2e2e">P</text>
<text x="328.67" y="48.79" font-size="8.26" textLength="23.06" lengthAdjust="spacingAndGlyphs" fill="#2e2e2e">(MPa)</text>
<text x="294.05" y="64.89" font-size="9.22" textLength="16.99" lengthAdjust="spacingAndGlyphs" fill="#2e2e2e">(psi)</text>
<text x="342.81" y="240.72" font-size="8.2" textLength="5.36" lengthAdjust="spacingAndGlyphs" fill="#2e2e2e">0</text>
<text x="557.25" y="248.58" font-size="8.79" textLength="31.1" lengthAdjust="spacingAndGlyphs" fill="#2e2e2e">(L / min)</text>
<text x="560.72" y="266.63" font-size="8.04" textLength="22.57" lengthAdjust="spacingAndGlyphs" fill="#2e2e2e">(GPM)</text>
<text x="569.62" y="236.5" font-size="9.17" textLength="6.15" lengthAdjust="spacingAndGlyphs" fill="#2e2e2e">Q</text>
</g>
<g class="c3">
<line x1="38.8" y1="310.5" x2="38.8" y2="466.3" stroke="#777" stroke-width="1.4"/>
<polygon fill="#222" points="38.8,305.7 36.6,314.2 41,314.2"/>
<line x1="61.7" y1="310.9" x2="61.7" y2="466.6" stroke="#5a5a5a" stroke-width="1.0"/>
<polygon fill="#222" points="61.7,306.1 59.5,314.6 63.9,314.6"/>
<line x1="38.8" y1="447.35" x2="43.3" y2="447.35" stroke="#666" stroke-width="1.0"/>
<line x1="38.8" y1="427.9" x2="43.3" y2="427.9" stroke="#666" stroke-width="1.0"/>
<line x1="38.8" y1="408.45" x2="43.3" y2="408.45" stroke="#666" stroke-width="1.0"/>
<line x1="38.8" y1="389" x2="43.3" y2="389" stroke="#666" stroke-width="1.0"/>
<line x1="38.8" y1="369.55" x2="43.3" y2="369.55" stroke="#666" stroke-width="1.0"/>
<line x1="38.8" y1="350.1" x2="43.3" y2="350.1" stroke="#666" stroke-width="1.0"/>
<line x1="38.8" y1="330.65" x2="43.3" y2="330.65" stroke="#666" stroke-width="1.0"/>
<text x="31.39" y="450.33" font-size="7.1" textLength="3.63" lengthAdjust="spacingAndGlyphs" fill="#2e2e2e">5</text>
<text x="29.45" y="430.88" font-size="7.1" textLength="7.27" lengthAdjust="spacingAndGlyphs" fill="#2e2e2e">10</text>
<text x="29.46" y="411.43" font-size="7.1" textLength="7.27" lengthAdjust="spacingAndGlyphs" fill="#2e2e2e">15</text>
<text x="29.53" y="391.98" font-size="7.1" textLength="7.27" lengthAdjust="spacingAndGlyphs" fill="#2e2e2e">20</text>
<text x="29.54" y="372.53" font-size="7.1" textLength="7.27" lengthAdjust="spacingAndGlyphs" fill="#2e2e2e">25</text>
<text x="29.57" y="353.08" font-size="7.1" textLength="7.27" lengthAdjust="spacingAndGlyphs" fill="#2e2e2e">30</text>
<text x="29.58" y="333.63" font-size="7.1" textLength="7.27" lengthAdjust="spacingAndGlyphs" fill="#2e2e2e">35</text>
<line x1="61.7" y1="452.43" x2="64.9" y2="452.43" stroke="#5a5a5a" stroke-width="1.0"/>
<line x1="61.7" y1="438.35" x2="66.7" y2="438.35" stroke="#5a5a5a" stroke-width="1.0"/>
<line x1="61.7" y1="424.27" x2="64.9" y2="424.27" stroke="#5a5a5a" stroke-width="1.0"/>
<line x1="61.7" y1="410.2" x2="66.7" y2="410.2" stroke="#5a5a5a" stroke-width="1.0"/>
<line x1="61.7" y1="396.12" x2="64.9" y2="396.12" stroke="#5a5a5a" stroke-width="1.0"/>
<line x1="61.7" y1="382.05" x2="66.7" y2="382.05" stroke="#5a5a5a" stroke-width="1.0"/>
<line x1="61.7" y1="367.98" x2="64.9" y2="367.98" stroke="#5a5a5a" stroke-width="1.0"/>
<line x1="61.7" y1="353.9" x2="66.7" y2="353.9" stroke="#5a5a5a" stroke-width="1.0"/>
<line x1="61.7" y1="339.83" x2="64.9" y2="339.83" stroke="#5a5a5a" stroke-width="1.0"/>
<line x1="61.7" y1="325.75" x2="66.7" y2="325.75" stroke="#5a5a5a" stroke-width="1.0"/>
<text x="47.56" y="441.83" font-size="7.1" textLength="12.71" lengthAdjust="spacingAndGlyphs" fill="#2e2e2e">0.05</text>
<text x="47.54" y="413.68" font-size="7.1" textLength="12.71" lengthAdjust="spacingAndGlyphs" fill="#2e2e2e">0.10</text>
<text x="47.56" y="385.53" font-size="7.1" textLength="12.71" lengthAdjust="spacingAndGlyphs" fill="#2e2e2e">0.15</text>
<text x="47.54" y="357.38" font-size="7.1" textLength="12.71" lengthAdjust="spacingAndGlyphs" fill="#2e2e2e">0.20</text>
<text x="47.56" y="329.23" font-size="7.1" textLength="12.71" lengthAdjust="spacingAndGlyphs" fill="#2e2e2e">0.25</text>
<line x1="61.2" y1="466.6" x2="242.6" y2="466.6" stroke="#5a5a5a" stroke-width="1.1"/>
<polygon fill="#222" points="245.6,466.6 237.6,464.8 237.6,468.4"/>
<line x1="68.45" y1="466.6" x2="68.45" y2="463.6" stroke="#5a5a5a" stroke-width="1.0"/>
<line x1="75.3" y1="466.6" x2="75.3" y2="461.8" stroke="#5a5a5a" stroke-width="1.0"/>
<line x1="82.15" y1="466.6" x2="82.15" y2="463.6" stroke="#5a5a5a" stroke-width="1.0"/>
<line x1="89" y1="466.6" x2="89" y2="461.8" stroke="#5a5a5a" stroke-width="1.0"/>
<line x1="95.85" y1="466.6" x2="95.85" y2="463.6" stroke="#5a5a5a" stroke-width="1.0"/>
<line x1="102.7" y1="466.6" x2="102.7" y2="461.8" stroke="#5a5a5a" stroke-width="1.0"/>
<line x1="109.55" y1="466.6" x2="109.55" y2="463.6" stroke="#5a5a5a" stroke-width="1.0"/>
<line x1="116.4" y1="466.6" x2="116.4" y2="461.8" stroke="#5a5a5a" stroke-width="1.0"/>
<line x1="123.25" y1="466.6" x2="123.25" y2="463.6" stroke="#5a5a5a" stroke-width="1.0"/>
<line x1="130.1" y1="466.6" x2="130.1" y2="461.8" stroke="#5a5a5a" stroke-width="1.0"/>
<line x1="136.95" y1="466.6" x2="136.95" y2="463.6" stroke="#5a5a5a" stroke-width="1.0"/>
<line x1="143.8" y1="466.6" x2="143.8" y2="461.8" stroke="#5a5a5a" stroke-width="1.0"/>
<line x1="150.65" y1="466.6" x2="150.65" y2="463.6" stroke="#5a5a5a" stroke-width="1.0"/>
<line x1="157.5" y1="466.6" x2="157.5" y2="461.8" stroke="#5a5a5a" stroke-width="1.0"/>
<line x1="164.35" y1="466.6" x2="164.35" y2="463.6" stroke="#5a5a5a" stroke-width="1.0"/>
<line x1="171.2" y1="466.6" x2="171.2" y2="461.8" stroke="#5a5a5a" stroke-width="1.0"/>
<line x1="178.05" y1="466.6" x2="178.05" y2="463.6" stroke="#5a5a5a" stroke-width="1.0"/>
<line x1="184.9" y1="466.6" x2="184.9" y2="461.8" stroke="#5a5a5a" stroke-width="1.0"/>
<line x1="191.75" y1="466.6" x2="191.75" y2="463.6" stroke="#5a5a5a" stroke-width="1.0"/>
<line x1="198.6" y1="466.6" x2="198.6" y2="461.8" stroke="#5a5a5a" stroke-width="1.0"/>
<line x1="205.45" y1="466.6" x2="205.45" y2="463.6" stroke="#5a5a5a" stroke-width="1.0"/>
<line x1="212.3" y1="466.6" x2="212.3" y2="461.8" stroke="#5a5a5a" stroke-width="1.0"/>
<line x1="219.15" y1="466.6" x2="219.15" y2="463.6" stroke="#5a5a5a" stroke-width="1.0"/>
<line x1="226" y1="466.6" x2="226" y2="461.8" stroke="#5a5a5a" stroke-width="1.0"/>
<line x1="232.85" y1="466.6" x2="232.85" y2="463.6" stroke="#5a5a5a" stroke-width="1.0"/>
<line x1="239.7" y1="466.6" x2="239.7" y2="461.8" stroke="#5a5a5a" stroke-width="1.0"/>
<text x="73.32" y="474.87" font-size="6.8" textLength="3.78" lengthAdjust="spacingAndGlyphs" fill="#2e2e2e">1</text>
<text x="87.11" y="474.87" font-size="6.8" textLength="3.78" lengthAdjust="spacingAndGlyphs" fill="#2e2e2e">2</text>
<text x="100.83" y="474.87" font-size="6.8" textLength="3.78" lengthAdjust="spacingAndGlyphs" fill="#2e2e2e">3</text>
<text x="114.53" y="474.87" font-size="6.8" textLength="3.78" lengthAdjust="spacingAndGlyphs" fill="#2e2e2e">4</text>
<text x="128.21" y="474.87" font-size="6.8" textLength="3.78" lengthAdjust="spacingAndGlyphs" fill="#2e2e2e">5</text>
<text x="141.89" y="474.87" font-size="6.8" textLength="3.78" lengthAdjust="spacingAndGlyphs" fill="#2e2e2e">6</text>
<text x="155.6" y="474.87" font-size="6.8" textLength="3.78" lengthAdjust="spacingAndGlyphs" fill="#2e2e2e">7</text>
<text x="169.31" y="474.87" font-size="6.8" textLength="3.78" lengthAdjust="spacingAndGlyphs" fill="#2e2e2e">8</text>
<text x="183" y="474.87" font-size="6.8" textLength="3.78" lengthAdjust="spacingAndGlyphs" fill="#2e2e2e">9</text>
<text x="194.7" y="474.87" font-size="6.8" textLength="7.56" lengthAdjust="spacingAndGlyphs" fill="#2e2e2e">10</text>
<text x="208.68" y="474.87" font-size="6.8" textLength="7.06" lengthAdjust="spacingAndGlyphs" fill="#2e2e2e">11</text>
<text x="222.14" y="474.87" font-size="6.8" textLength="7.56" lengthAdjust="spacingAndGlyphs" fill="#2e2e2e">12</text>
<line x1="61.6" y1="483" x2="242.6" y2="483" stroke="#5a5a5a" stroke-width="1.1"/>
<polygon fill="#222" points="245.6,483 237.6,481.2 237.6,484.8"/>
<line x1="66.79" y1="483" x2="66.79" y2="480" stroke="#5a5a5a" stroke-width="1.0"/>
<line x1="71.97" y1="483" x2="71.97" y2="480" stroke="#5a5a5a" stroke-width="1.0"/>
<line x1="77.16" y1="483" x2="77.16" y2="480" stroke="#5a5a5a" stroke-width="1.0"/>
<line x1="82.34" y1="483" x2="82.34" y2="480" stroke="#5a5a5a" stroke-width="1.0"/>
<line x1="87.53" y1="483" x2="87.53" y2="478.7" stroke="#5a5a5a" stroke-width="1.0"/>
<line x1="92.71" y1="483" x2="92.71" y2="480" stroke="#5a5a5a" stroke-width="1.0"/>
<line x1="97.9" y1="483" x2="97.9" y2="480" stroke="#5a5a5a" stroke-width="1.0"/>
<line x1="103.08" y1="483" x2="103.08" y2="480" stroke="#5a5a5a" stroke-width="1.0"/>
<line x1="108.27" y1="483" x2="108.27" y2="480" stroke="#5a5a5a" stroke-width="1.0"/>
<line x1="113.45" y1="483" x2="113.45" y2="478.7" stroke="#5a5a5a" stroke-width="1.0"/>
<line x1="118.64" y1="483" x2="118.64" y2="480" stroke="#5a5a5a" stroke-width="1.0"/>
<line x1="123.83" y1="483" x2="123.83" y2="480" stroke="#5a5a5a" stroke-width="1.0"/>
<line x1="129.01" y1="483" x2="129.01" y2="480" stroke="#5a5a5a" stroke-width="1.0"/>
<line x1="134.2" y1="483" x2="134.2" y2="480" stroke="#5a5a5a" stroke-width="1.0"/>
<line x1="139.38" y1="483" x2="139.38" y2="478.7" stroke="#5a5a5a" stroke-width="1.0"/>
<line x1="144.57" y1="483" x2="144.57" y2="480" stroke="#5a5a5a" stroke-width="1.0"/>
<line x1="149.75" y1="483" x2="149.75" y2="480" stroke="#5a5a5a" stroke-width="1.0"/>
<line x1="154.94" y1="483" x2="154.94" y2="480" stroke="#5a5a5a" stroke-width="1.0"/>
<line x1="160.12" y1="483" x2="160.12" y2="480" stroke="#5a5a5a" stroke-width="1.0"/>
<line x1="165.31" y1="483" x2="165.31" y2="478.7" stroke="#5a5a5a" stroke-width="1.0"/>
<line x1="170.49" y1="483" x2="170.49" y2="480" stroke="#5a5a5a" stroke-width="1.0"/>
<line x1="175.68" y1="483" x2="175.68" y2="480" stroke="#5a5a5a" stroke-width="1.0"/>
<line x1="180.87" y1="483" x2="180.87" y2="480" stroke="#5a5a5a" stroke-width="1.0"/>
<line x1="186.05" y1="483" x2="186.05" y2="480" stroke="#5a5a5a" stroke-width="1.0"/>
<line x1="191.24" y1="483" x2="191.24" y2="478.7" stroke="#5a5a5a" stroke-width="1.0"/>
<line x1="196.42" y1="483" x2="196.42" y2="480" stroke="#5a5a5a" stroke-width="1.0"/>
<line x1="201.61" y1="483" x2="201.61" y2="480" stroke="#5a5a5a" stroke-width="1.0"/>
<line x1="206.79" y1="483" x2="206.79" y2="480" stroke="#5a5a5a" stroke-width="1.0"/>
<line x1="211.98" y1="483" x2="211.98" y2="480" stroke="#5a5a5a" stroke-width="1.0"/>
<line x1="217.16" y1="483" x2="217.16" y2="478.7" stroke="#5a5a5a" stroke-width="1.0"/>
<line x1="222.35" y1="483" x2="222.35" y2="480" stroke="#5a5a5a" stroke-width="1.0"/>
<line x1="227.53" y1="483" x2="227.53" y2="480" stroke="#5a5a5a" stroke-width="1.0"/>
<line x1="232.72" y1="483" x2="232.72" y2="480" stroke="#5a5a5a" stroke-width="1.0"/>
<text x="82.1" y="492.67" font-size="6.8" textLength="9.45" lengthAdjust="spacingAndGlyphs" fill="#2e2e2e">0.5</text>
<text x="107.9" y="492.67" font-size="6.8" textLength="9.45" lengthAdjust="spacingAndGlyphs" fill="#2e2e2e">1.0</text>
<text x="133.84" y="492.67" font-size="6.8" textLength="9.45" lengthAdjust="spacingAndGlyphs" fill="#2e2e2e">1.5</text>
<text x="159.84" y="492.67" font-size="6.8" textLength="9.45" lengthAdjust="spacingAndGlyphs" fill="#2e2e2e">2.0</text>
<text x="185.78" y="492.67" font-size="6.8" textLength="9.45" lengthAdjust="spacingAndGlyphs" fill="#2e2e2e">2.5</text>
<text x="211.74" y="492.67" font-size="6.8" textLength="9.45" lengthAdjust="spacingAndGlyphs" fill="#2e2e2e">3.0</text>
<text x="47.55" y="294.8" font-size="7.85" textLength="5.26" lengthAdjust="spacingAndGlyphs" fill="#2e2e2e">P</text>
<text x="42.35" y="304.68" font-size="7.83" textLength="19.7" lengthAdjust="spacingAndGlyphs" fill="#2e2e2e">(MPa)</text>
<text x="22.31" y="314.2" font-size="7.72" textLength="15.38" lengthAdjust="spacingAndGlyphs" fill="#2e2e2e">(psi)</text>
<text x="54.35" y="472.12" font-size="8.2" textLength="4.89" lengthAdjust="spacingAndGlyphs" fill="#2e2e2e">0</text>
<text x="239.08" y="479.19" font-size="9.22" textLength="26.06" lengthAdjust="spacingAndGlyphs" fill="#2e2e2e">(L/min)</text>
<text x="241.16" y="494.93" font-size="7.08" textLength="20.69" lengthAdjust="spacingAndGlyphs" fill="#2e2e2e">(GPM)</text>
<text x="247.79" y="467.4" font-size="7.16" textLength="5.13" lengthAdjust="spacingAndGlyphs" fill="#2e2e2e">Q</text>
</g>
<g class="c4">
<line x1="344.2" y1="296.6" x2="344.2" y2="467.3" stroke="#777" stroke-width="1.4"/>
<polygon fill="#222" points="344.2,291.8 342,300.3 346.4,300.3"/>
<line x1="371.6" y1="296.6" x2="371.6" y2="467.5" stroke="#5a5a5a" stroke-width="1.0"/>
<polygon fill="#222" points="371.6,291.8 369.4,300.3 373.8,300.3"/>
<line x1="344.2" y1="455.1" x2="348.7" y2="455.1" stroke="#666" stroke-width="1.0"/>
<line x1="344.2" y1="443.6" x2="348.7" y2="443.6" stroke="#666" stroke-width="1.0"/>
<line x1="344.2" y1="432.1" x2="348.7" y2="432.1" stroke="#666" stroke-width="1.0"/>
<line x1="344.2" y1="420.6" x2="348.7" y2="420.6" stroke="#666" stroke-width="1.0"/>
<line x1="344.2" y1="409.1" x2="348.7" y2="409.1" stroke="#666" stroke-width="1.0"/>
<line x1="344.2" y1="397.6" x2="348.7" y2="397.6" stroke="#666" stroke-width="1.0"/>
<line x1="344.2" y1="386.1" x2="348.7" y2="386.1" stroke="#666" stroke-width="1.0"/>
<line x1="344.2" y1="374.6" x2="348.7" y2="374.6" stroke="#666" stroke-width="1.0"/>
<line x1="344.2" y1="363.1" x2="348.7" y2="363.1" stroke="#666" stroke-width="1.0"/>
<line x1="344.2" y1="351.6" x2="348.7" y2="351.6" stroke="#666" stroke-width="1.0"/>
<line x1="344.2" y1="340.1" x2="348.7" y2="340.1" stroke="#666" stroke-width="1.0"/>
<line x1="344.2" y1="328.6" x2="348.7" y2="328.6" stroke="#666" stroke-width="1.0"/>
<line x1="344.2" y1="317.1" x2="348.7" y2="317.1" stroke="#666" stroke-width="1.0"/>
<line x1="344.2" y1="305.6" x2="348.7" y2="305.6" stroke="#666" stroke-width="1.0"/>
<text x="331.2" y="458.66" font-size="7.9" textLength="8.61" lengthAdjust="spacingAndGlyphs" fill="#2e2e2e">10</text>
<text x="331.2" y="447.16" font-size="7.9" textLength="8.61" lengthAdjust="spacingAndGlyphs" fill="#2e2e2e">20</text>
<text x="331.2" y="435.66" font-size="7.9" textLength="8.61" lengthAdjust="spacingAndGlyphs" fill="#2e2e2e">30</text>
<text x="331.2" y="424.16" font-size="7.9" textLength="8.61" lengthAdjust="spacingAndGlyphs" fill="#2e2e2e">40</text>
<text x="331.2" y="412.66" font-size="7.9" textLength="8.61" lengthAdjust="spacingAndGlyphs" fill="#2e2e2e">50</text>
<text x="331.2" y="401.16" font-size="7.9" textLength="8.61" lengthAdjust="spacingAndGlyphs" fill="#2e2e2e">60</text>
<text x="331.2" y="389.66" font-size="7.9" textLength="8.61" lengthAdjust="spacingAndGlyphs" fill="#2e2e2e">70</text>
<text x="331.2" y="378.16" font-size="7.9" textLength="8.61" lengthAdjust="spacingAndGlyphs" fill="#2e2e2e">80</text>
<text x="331.2" y="366.66" font-size="7.9" textLength="8.61" lengthAdjust="spacingAndGlyphs" fill="#2e2e2e">90</text>
<text x="326.88" y="355.16" font-size="7.9" textLength="12.92" lengthAdjust="spacingAndGlyphs" fill="#2e2e2e">100</text>
<text x="327.46" y="343.66" font-size="7.9" textLength="12.34" lengthAdjust="spacingAndGlyphs" fill="#2e2e2e">110</text>
<text x="326.88" y="332.16" font-size="7.9" textLength="12.92" lengthAdjust="spacingAndGlyphs" fill="#2e2e2e">120</text>
<text x="326.88" y="320.66" font-size="7.9" textLength="12.92" lengthAdjust="spacingAndGlyphs" fill="#2e2e2e">130</text>
<text x="326.88" y="309.16" font-size="7.9" textLength="12.92" lengthAdjust="spacingAndGlyphs" fill="#2e2e2e">140</text>
<line x1="371.6" y1="458.47" x2="374.8" y2="458.47" stroke="#5a5a5a" stroke-width="1.0"/>
<line x1="371.6" y1="450.14" x2="376.6" y2="450.14" stroke="#5a5a5a" stroke-width="1.0"/>
<line x1="371.6" y1="441.81" x2="374.8" y2="441.81" stroke="#5a5a5a" stroke-width="1.0"/>
<line x1="371.6" y1="433.48" x2="376.6" y2="433.48" stroke="#5a5a5a" stroke-width="1.0"/>
<line x1="371.6" y1="425.15" x2="374.8" y2="425.15" stroke="#5a5a5a" stroke-width="1.0"/>
<line x1="371.6" y1="416.82" x2="376.6" y2="416.82" stroke="#5a5a5a" stroke-width="1.0"/>
<line x1="371.6" y1="408.49" x2="374.8" y2="408.49" stroke="#5a5a5a" stroke-width="1.0"/>
<line x1="371.6" y1="400.16" x2="376.6" y2="400.16" stroke="#5a5a5a" stroke-width="1.0"/>
<line x1="371.6" y1="391.83" x2="374.8" y2="391.83" stroke="#5a5a5a" stroke-width="1.0"/>
<line x1="371.6" y1="383.5" x2="376.6" y2="383.5" stroke="#5a5a5a" stroke-width="1.0"/>
<line x1="371.6" y1="375.17" x2="374.8" y2="375.17" stroke="#5a5a5a" stroke-width="1.0"/>
<line x1="371.6" y1="366.84" x2="376.6" y2="366.84" stroke="#5a5a5a" stroke-width="1.0"/>
<line x1="371.6" y1="358.51" x2="374.8" y2="358.51" stroke="#5a5a5a" stroke-width="1.0"/>
<line x1="371.6" y1="350.18" x2="376.6" y2="350.18" stroke="#5a5a5a" stroke-width="1.0"/>
<line x1="371.6" y1="341.85" x2="374.8" y2="341.85" stroke="#5a5a5a" stroke-width="1.0"/>
<line x1="371.6" y1="333.52" x2="376.6" y2="333.52" stroke="#5a5a5a" stroke-width="1.0"/>
<line x1="371.6" y1="325.19" x2="374.8" y2="325.19" stroke="#5a5a5a" stroke-width="1.0"/>
<line x1="371.6" y1="316.86" x2="376.6" y2="316.86" stroke="#5a5a5a" stroke-width="1.0"/>
<line x1="371.6" y1="308.53" x2="374.8" y2="308.53" stroke="#5a5a5a" stroke-width="1.0"/>
<text x="357.91" y="452.9" font-size="7.9" textLength="10.76" lengthAdjust="spacingAndGlyphs" fill="#2e2e2e">0.1</text>
<text x="357.93" y="436.24" font-size="7.9" textLength="10.76" lengthAdjust="spacingAndGlyphs" fill="#2e2e2e">0.2</text>
<text x="357.87" y="419.58" font-size="7.9" textLength="10.76" lengthAdjust="spacingAndGlyphs" fill="#2e2e2e">0.3</text>
<text x="357.75" y="402.92" font-size="7.9" textLength="10.76" lengthAdjust="spacingAndGlyphs" fill="#2e2e2e">0.4</text>
<text x="357.85" y="386.26" font-size="7.9" textLength="10.76" lengthAdjust="spacingAndGlyphs" fill="#2e2e2e">0.5</text>
<text x="357.87" y="369.6" font-size="7.9" textLength="10.76" lengthAdjust="spacingAndGlyphs" fill="#2e2e2e">0.6</text>
<text x="357.93" y="352.94" font-size="7.9" textLength="10.76" lengthAdjust="spacingAndGlyphs" fill="#2e2e2e">0.7</text>
<text x="357.87" y="336.28" font-size="7.9" textLength="10.76" lengthAdjust="spacingAndGlyphs" fill="#2e2e2e">0.8</text>
<text x="357.89" y="319.62" font-size="7.9" textLength="10.76" lengthAdjust="spacingAndGlyphs" fill="#2e2e2e">0.9</text>
<line x1="371.1" y1="467.5" x2="545" y2="468.47" stroke="#5a5a5a" stroke-width="1.1"/>
<polygon fill="#222" points="548,468.49 540,466.69 540,470.29"/>
<line x1="379.72" y1="467.55" x2="379.72" y2="464.55" stroke="#5a5a5a" stroke-width="1.0"/>
<line x1="387.94" y1="467.59" x2="387.94" y2="462.79" stroke="#5a5a5a" stroke-width="1.0"/>
<line x1="396.16" y1="467.64" x2="396.16" y2="464.64" stroke="#5a5a5a" stroke-width="1.0"/>
<line x1="404.38" y1="467.68" x2="404.38" y2="462.88" stroke="#5a5a5a" stroke-width="1.0"/>
<line x1="412.6" y1="467.73" x2="412.6" y2="464.73" stroke="#5a5a5a" stroke-width="1.0"/>
<line x1="420.82" y1="467.78" x2="420.82" y2="462.98" stroke="#5a5a5a" stroke-width="1.0"/>
<line x1="429.04" y1="467.82" x2="429.04" y2="464.82" stroke="#5a5a5a" stroke-width="1.0"/>
<line x1="437.26" y1="467.87" x2="437.26" y2="463.07" stroke="#5a5a5a" stroke-width="1.0"/>
<line x1="445.48" y1="467.91" x2="445.48" y2="464.91" stroke="#5a5a5a" stroke-width="1.0"/>
<line x1="453.7" y1="467.96" x2="453.7" y2="463.16" stroke="#5a5a5a" stroke-width="1.0"/>
<line x1="461.92" y1="468.01" x2="461.92" y2="465.01" stroke="#5a5a5a" stroke-width="1.0"/>
<line x1="470.14" y1="468.05" x2="470.14" y2="463.25" stroke="#5a5a5a" stroke-width="1.0"/>
<line x1="478.36" y1="468.1" x2="478.36" y2="465.1" stroke="#5a5a5a" stroke-width="1.0"/>
<line x1="486.58" y1="468.14" x2="486.58" y2="463.34" stroke="#5a5a5a" stroke-width="1.0"/>
<line x1="494.8" y1="468.19" x2="494.8" y2="465.19" stroke="#5a5a5a" stroke-width="1.0"/>
<line x1="503.02" y1="468.24" x2="503.02" y2="463.44" stroke="#5a5a5a" stroke-width="1.0"/>
<line x1="511.24" y1="468.28" x2="511.24" y2="465.28" stroke="#5a5a5a" stroke-width="1.0"/>
<line x1="519.46" y1="468.33" x2="519.46" y2="463.53" stroke="#5a5a5a" stroke-width="1.0"/>
<line x1="527.68" y1="468.37" x2="527.68" y2="465.37" stroke="#5a5a5a" stroke-width="1.0"/>
<line x1="535.9" y1="468.42" x2="535.9" y2="463.62" stroke="#5a5a5a" stroke-width="1.0"/>
<text x="383.21" y="478.56" font-size="6.8" textLength="9.45" lengthAdjust="spacingAndGlyphs" fill="#2e2e2e">0.2</text>
<text x="399.73" y="478.66" font-size="6.8" textLength="9.45" lengthAdjust="spacingAndGlyphs" fill="#2e2e2e">0.4</text>
<text x="416.78" y="478.75" font-size="6.8" textLength="9.45" lengthAdjust="spacingAndGlyphs" fill="#2e2e2e">0.6</text>
<text x="432.58" y="478.84" font-size="6.8" textLength="9.45" lengthAdjust="spacingAndGlyphs" fill="#2e2e2e">0.8</text>
<text x="447.55" y="478.93" font-size="6.8" textLength="9.45" lengthAdjust="spacingAndGlyphs" fill="#2e2e2e">1.0</text>
<text x="463.69" y="479.02" font-size="6.8" textLength="9.45" lengthAdjust="spacingAndGlyphs" fill="#2e2e2e">1.2</text>
<text x="480.21" y="479.11" font-size="6.8" textLength="9.45" lengthAdjust="spacingAndGlyphs" fill="#2e2e2e">1.4</text>
<text x="497.26" y="479.2" font-size="6.8" textLength="9.45" lengthAdjust="spacingAndGlyphs" fill="#2e2e2e">1.6</text>
<text x="514.66" y="479.3" font-size="6.8" textLength="9.45" lengthAdjust="spacingAndGlyphs" fill="#2e2e2e">1.8</text>
<text x="531.63" y="479.4" font-size="6.8" textLength="9.45" lengthAdjust="spacingAndGlyphs" fill="#2e2e2e">2.0</text>
<line x1="371.5" y1="486.2" x2="545" y2="487.17" stroke="#5a5a5a" stroke-width="1.1"/>
<polygon fill="#222" points="548,487.19 540,485.39 540,488.99"/>
<line x1="402.61" y1="486.37" x2="402.61" y2="482.07" stroke="#5a5a5a" stroke-width="1.0"/>
<line x1="433.73" y1="486.55" x2="433.73" y2="482.25" stroke="#5a5a5a" stroke-width="1.0"/>
<line x1="464.84" y1="486.72" x2="464.84" y2="482.42" stroke="#5a5a5a" stroke-width="1.0"/>
<line x1="495.95" y1="486.9" x2="495.95" y2="482.6" stroke="#5a5a5a" stroke-width="1.0"/>
<line x1="527.06" y1="487.07" x2="527.06" y2="482.77" stroke="#5a5a5a" stroke-width="1.0"/>
<text x="397.91" y="497.15" font-size="6.8" textLength="9.45" lengthAdjust="spacingAndGlyphs" fill="#2e2e2e">0.1</text>
<text x="429.03" y="497.32" font-size="6.8" textLength="9.45" lengthAdjust="spacingAndGlyphs" fill="#2e2e2e">0.2</text>
<text x="460.12" y="497.5" font-size="6.8" textLength="9.45" lengthAdjust="spacingAndGlyphs" fill="#2e2e2e">0.3</text>
<text x="491.18" y="497.67" font-size="6.8" textLength="9.45" lengthAdjust="spacingAndGlyphs" fill="#2e2e2e">0.4</text>
<text x="522.34" y="497.84" font-size="6.8" textLength="9.45" lengthAdjust="spacingAndGlyphs" fill="#2e2e2e">0.5</text>
<text x="344.18" y="284.2" font-size="8.15" textLength="5.01" lengthAdjust="spacingAndGlyphs" fill="#2e2e2e">P</text>
<text x="326.72" y="293.29" font-size="7.29" textLength="15.06" lengthAdjust="spacingAndGlyphs" fill="#2e2e2e">(psi)</text>
<text x="349.46" y="293.29" font-size="7.29" textLength="20.97" lengthAdjust="spacingAndGlyphs" fill="#2e2e2e">(M Pa)</text>
<text x="363.15" y="471.22" font-size="7.92" textLength="4.89" lengthAdjust="spacingAndGlyphs" fill="#2e2e2e">0</text>
<text x="550.22" y="481.54" font-size="6.54" textLength="23.66" lengthAdjust="spacingAndGlyphs" fill="#2e2e2e">(L/min)</text>
<text x="550.71" y="495.76" font-size="6.43" textLength="22.99" lengthAdjust="spacingAndGlyphs" fill="#2e2e2e">(GPM)</text>
<text x="559.88" y="470.8" font-size="7.45" textLength="5.24" lengthAdjust="spacingAndGlyphs" fill="#2e2e2e">Q</text>
</g>
<path fill="none" stroke="#3a3a3a" stroke-width="1.0" d="M74.1,94.7 C78.22,98.08 89.4,107.25 98.8,115 C108.2,122.75 125.22,136.83 130.5,141.2 C134.28,144.55 146.53,155.12 153.2,161.3 C159.87,167.48 164.57,172.28 170.5,178.3 C176.43,184.32 182.12,190.42 188.8,197.4 C195.48,204.38 206.97,216.4 210.6,220.2 C212.12,222.97 218.18,234.03 219.7,236.8"/>
<path fill="none" stroke="#3a3a3a" stroke-width="1.0" d="M91.3,123.3 C94.08,125.47 103.28,132.5 108,136.3 C112.72,140.1 115.75,142.73 119.6,146.1 C123.45,149.47 126.87,152.65 131.1,156.5 C135.33,160.35 139.95,164.82 145,169.2 C150.05,173.58 155.62,178.1 161.4,182.8 C167.18,187.5 173.93,192.98 179.7,197.4 C185.47,201.82 190.85,205.5 196,209.3 C201.15,213.1 208.17,218.38 210.6,220.2 C215.8,222.97 236.6,234.03 241.8,236.8"/>
<text x="161.75" y="142.81" font-size="9.47" textLength="31.47" lengthAdjust="spacingAndGlyphs" fill="#2e2e2e">DP – 125</text>
<line x1="162.1" y1="145.6" x2="193.8" y2="145.6" stroke="#666" stroke-width="1.2"/>
<line x1="161.8" y1="145.5" x2="153.4" y2="162.2" stroke="#4a4a4a" stroke-width="1.0"/>
<text x="96.86" y="180.42" font-size="8.06" textLength="31.25" lengthAdjust="spacingAndGlyphs" fill="#2e2e2e">DP – 100</text>
<line x1="96.3" y1="184.3" x2="130.5" y2="184.3" stroke="#666" stroke-width="1.2"/>
<line x1="130.5" y1="184.3" x2="145.4" y2="170.3" stroke="#4a4a4a" stroke-width="1.0"/>
<text x="98.83" y="192.81" font-size="8.62" textLength="29.47" lengthAdjust="spacingAndGlyphs" fill="#2e2e2e">DP–100A</text>
<path fill="none" stroke="#3a3a3a" stroke-width="1.0" d="M351.7,100.8 C354.35,103.43 362.45,111.47 367.6,116.6 C372.75,121.73 378.95,128.12 382.6,131.6 C386.25,135.08 387.38,135.82 389.5,137.5 C391.62,139.18 392.03,139.38 395.3,141.7 C398.57,144.02 403.58,147.12 409.1,151.4 C414.62,155.68 425.18,164.73 428.4,167.4 C429.57,168.47 432.83,170.82 435.4,173.8 C437.97,176.78 441,180.82 443.8,185.3 C446.6,189.78 449.52,195.58 452.2,200.7 C454.88,205.82 456.95,210.23 459.9,216 C462.85,221.77 468.23,232.08 469.9,235.3"/>
<path fill="none" stroke="#3a3a3a" stroke-width="1.0" d="M463.4,101.4 C464.93,103.92 468.88,109.13 472.6,116.5 C476.32,123.87 481.6,136.78 485.7,145.6 C489.8,154.42 493.92,163.07 497.2,169.4 C500.48,175.73 502.12,177.68 505.4,183.6 C508.68,189.52 514.98,201.35 516.9,204.9 C521.12,209.97 537.98,230.23 542.2,235.3"/>
<text x="382.49" y="179.81" font-size="9.47" textLength="30.33" lengthAdjust="spacingAndGlyphs" fill="#2e2e2e">DP – 60A</text>
<line x1="382.4" y1="183.1" x2="415.1" y2="183.1" stroke="#666" stroke-width="1.2"/>
<line x1="415.1" y1="183.1" x2="428.4" y2="167.4" stroke="#4a4a4a" stroke-width="1.0"/>
<text x="510.08" y="152.71" font-size="9.47" textLength="26.11" lengthAdjust="spacingAndGlyphs" fill="#2e2e2e">DP – 60</text>
<line x1="509.5" y1="156.9" x2="536.5" y2="156.9" stroke="#666" stroke-width="1.2"/>
<line x1="509.5" y1="156.9" x2="497.2" y2="169.4" stroke="#4a4a4a" stroke-width="1.0"/>
<path fill="none" stroke="#3a3a3a" stroke-width="1.0" d="M102.4,330.7 C106.28,336.08 118.15,352.4 125.7,363 C133.25,373.6 140.97,384.93 147.7,394.3 C154.43,403.67 160.98,411.47 166.1,419.2 C171.22,426.93 174.18,432.8 178.4,440.7 C182.62,448.6 189.23,462.28 191.4,466.6"/>
<path fill="none" stroke="#3a3a3a" stroke-width="1.0" d="M166.5,331.5 C169.25,336.23 177.27,348.85 183,359.9 C188.73,370.95 195.53,385.7 200.9,397.8 C206.27,409.9 211.02,421.03 215.2,432.5 C219.38,443.97 224.2,460.92 226,466.6"/>
<text x="107.62" y="403.13" font-size="7.07" textLength="22.66" lengthAdjust="spacingAndGlyphs" fill="#2e2e2e">DP - 35</text>
<line x1="106.7" y1="406.5" x2="131.3" y2="406.5" stroke="#666" stroke-width="1.2"/>
<line x1="131.3" y1="406.5" x2="147.7" y2="394.3" stroke="#4a4a4a" stroke-width="1.0"/>
<text x="108.43" y="415.53" font-size="7.07" textLength="20.11" lengthAdjust="spacingAndGlyphs" fill="#2e2e2e">12VDC</text>
<text x="212.72" y="378.33" font-size="7.21" textLength="22.55" lengthAdjust="spacingAndGlyphs" fill="#2e2e2e">DP - 35</text>
<line x1="210.7" y1="381.4" x2="235.3" y2="381.4" stroke="#666" stroke-width="1.2"/>
<line x1="210.7" y1="381.4" x2="200.9" y2="397.8" stroke="#4a4a4a" stroke-width="1.0"/>
<text x="213.36" y="391.12" font-size="8.06" textLength="21.7" lengthAdjust="spacingAndGlyphs" fill="#2e2e2e">24VDC</text>
<path fill="none" stroke="#3a3a3a" stroke-width="1.0" d="M372.6,316.7 C375.05,317.77 381.98,320.15 387.3,323.1 C392.62,326.05 399.05,330.35 404.5,334.4 C409.95,338.45 414.73,342.78 420,347.4 C425.27,352.02 430.62,356.8 436.1,362.1 C441.58,367.4 447.98,373.93 452.9,379.2 C457.82,384.47 461.68,389.05 465.6,393.7 C469.52,398.35 472.78,402.32 476.4,407.1 C480.02,411.88 484.05,417.7 487.3,422.4 C490.55,427.1 493.27,430.98 495.9,435.3 C498.53,439.62 501.17,444.45 503.1,448.3 C505.03,452.15 506.25,455.18 507.5,458.4 C508.75,461.62 510.08,466.07 510.6,467.6"/>
<text x="467.46" y="358.42" font-size="8.06" textLength="27.83" lengthAdjust="spacingAndGlyphs" fill="#2e2e2e">DP–130</text>
<line x1="463" y1="361.6" x2="502.8" y2="361.6" stroke="#666" stroke-width="1.2"/>
<line x1="463" y1="361.6" x2="452.9" y2="379.2" stroke="#4a4a4a" stroke-width="1.0"/>
<circle cx="537.5" cy="334.5" r="0.6" fill="#888"/>
</svg>
</svg>
</body></html>
